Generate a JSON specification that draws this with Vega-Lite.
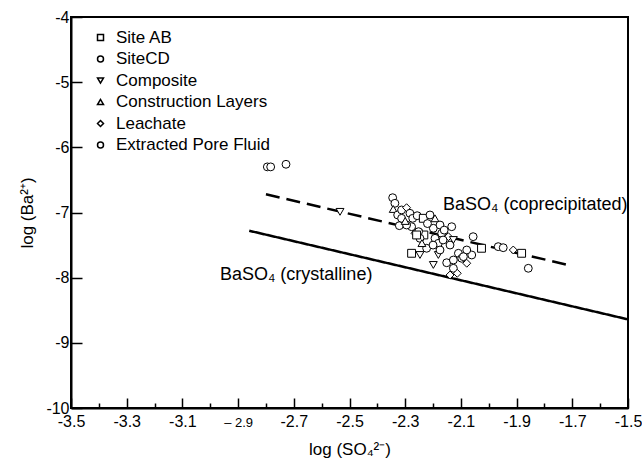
{
  "$schema": "https://vega.github.io/schema/vega-lite/v6.json",
  "width": 557,
  "height": 391,
  "autosize": {"type": "none"},
  "padding": {"left": 71, "top": 17, "right": 14, "bottom": 56},
  "background": "white",
  "config": {
    "font": "Liberation Sans",
    "view": {"stroke": "black", "strokeWidth": 2},
    "axis": {
      "grid": false,
      "domainColor": "black",
      "domainWidth": 2,
      "tickColor": "black",
      "tickWidth": 1.5,
      "labelColor": "black",
      "labelFont": "Liberation Sans",
      "labelFontSize": 16,
      "titleColor": "black",
      "titleFont": "Liberation Sans",
      "titleFontSize": 17,
      "titleFontWeight": "normal"
    }
  },
  "datasets": {
    "lines": [
      {"x": -2.86, "y": -7.28, "type": "crystalline"},
      {"x": -1.5, "y": -8.64, "type": "crystalline"},
      {"x": -2.8, "y": -6.72, "type": "coprecipitated"},
      {"x": -1.7, "y": -7.82, "type": "coprecipitated"}
    ],
    "labels": [
      {"x": -2.965, "y": -7.96, "text": "BaSO₄ (crystalline)"},
      {"x": -2.164, "y": -6.885, "text": "BaSO₄ (coprecipitated)"}
    ],
    "points": [
      {"x": -2.795, "y": -6.30, "s": "Extracted Pore Fluid"},
      {"x": -2.783, "y": -6.30, "s": "Extracted Pore Fluid"},
      {"x": -2.728, "y": -6.26, "s": "Extracted Pore Fluid"},
      {"x": -2.534, "y": -6.99, "s": "Composite"},
      {"x": -2.345, "y": -6.773, "s": "SiteCD"},
      {"x": -2.337, "y": -6.859, "s": "Extracted Pore Fluid"},
      {"x": -2.343, "y": -6.946, "s": "Construction Layers"},
      {"x": -2.327, "y": -7.038, "s": "SiteCD"},
      {"x": -2.313, "y": -6.961, "s": "SiteCD"},
      {"x": -2.295, "y": -6.926, "s": "Leachate"},
      {"x": -2.283, "y": -7.012, "s": "SiteCD"},
      {"x": -2.321, "y": -7.202, "s": "SiteCD"},
      {"x": -2.273, "y": -7.089, "s": "Extracted Pore Fluid"},
      {"x": -2.257, "y": -7.049, "s": "SiteCD"},
      {"x": -2.235, "y": -7.089, "s": "Site AB"},
      {"x": -2.211, "y": -7.038, "s": "SiteCD"},
      {"x": -2.193, "y": -7.089, "s": "Construction Layers"},
      {"x": -2.277, "y": -7.218, "s": "SiteCD"},
      {"x": -2.265, "y": -7.319, "s": "Leachate"},
      {"x": -2.233, "y": -7.345, "s": "Site AB"},
      {"x": -2.247, "y": -7.396, "s": "SiteCD"},
      {"x": -2.199, "y": -7.242, "s": "SiteCD"},
      {"x": -2.175, "y": -7.192, "s": "Extracted Pore Fluid"},
      {"x": -2.133, "y": -7.218, "s": "SiteCD"},
      {"x": -2.169, "y": -7.319, "s": "SiteCD"},
      {"x": -2.145, "y": -7.371, "s": "Leachate"},
      {"x": -2.193, "y": -7.396, "s": "SiteCD"},
      {"x": -2.181, "y": -7.473, "s": "SiteCD"},
      {"x": -2.139, "y": -7.499, "s": "Extracted Pore Fluid"},
      {"x": -2.127, "y": -7.422, "s": "Composite"},
      {"x": -2.277, "y": -7.626, "s": "Site AB"},
      {"x": -2.247, "y": -7.652, "s": "Composite"},
      {"x": -2.223, "y": -7.549, "s": "SiteCD"},
      {"x": -2.199, "y": -7.805, "s": "Composite"},
      {"x": -2.181, "y": -7.652, "s": "Composite"},
      {"x": -2.109, "y": -7.626, "s": "SiteCD"},
      {"x": -2.097, "y": -7.703, "s": "SiteCD"},
      {"x": -2.079, "y": -7.779, "s": "Leachate"},
      {"x": -2.061, "y": -7.652, "s": "SiteCD"},
      {"x": -2.127, "y": -7.856, "s": "SiteCD"},
      {"x": -2.113, "y": -7.933, "s": "Leachate"},
      {"x": -2.139, "y": -7.959, "s": "Leachate"},
      {"x": -2.056, "y": -7.371, "s": "SiteCD"},
      {"x": -2.026, "y": -7.549, "s": "Site AB"},
      {"x": -1.966, "y": -7.524, "s": "Extracted Pore Fluid"},
      {"x": -1.948, "y": -7.540, "s": "SiteCD"},
      {"x": -1.912, "y": -7.575, "s": "Leachate"},
      {"x": -1.882, "y": -7.626, "s": "Site AB"},
      {"x": -1.858, "y": -7.856, "s": "SiteCD"},
      {"x": -2.079, "y": -7.575, "s": "SiteCD"},
      {"x": -2.151, "y": -7.771, "s": "SiteCD"},
      {"x": -2.164, "y": -7.422, "s": "SiteCD"},
      {"x": -2.252, "y": -7.294, "s": "SiteCD"},
      {"x": -2.295, "y": -7.192, "s": "SiteCD"},
      {"x": -2.313, "y": -7.089, "s": "SiteCD"},
      {"x": -2.259, "y": -7.345, "s": "Site AB"},
      {"x": -2.175, "y": -7.575, "s": "SiteCD"},
      {"x": -2.091, "y": -7.678, "s": "Extracted Pore Fluid"},
      {"x": -2.127, "y": -7.729, "s": "SiteCD"},
      {"x": -2.30, "y": -7.13, "s": "Construction Layers"},
      {"x": -2.22, "y": -7.17, "s": "SiteCD"},
      {"x": -2.16, "y": -7.27, "s": "SiteCD"},
      {"x": -2.24, "y": -7.47, "s": "Construction Layers"},
      {"x": -2.20, "y": -7.50, "s": "SiteCD"}
    ]
  },
  "resolve": {"axis": {"x": "independent"}},
  "layer": [
    {
      "data": {"name": "lines"},
      "mark": {"type": "line", "color": "black", "strokeWidth": 2.5},
      "encoding": {
        "x": {
          "field": "x", "type": "quantitative",
          "scale": {"domain": [-3.5, -1.5], "nice": false, "zero": false},
          "axis": {
            "orient": "bottom",
            "values": [-3.5, -3.3, -3.1, -2.9, -2.7, -2.5, -2.3, -2.1, -1.9, -1.7, -1.5],
            "format": ".1f",
            "labelExpr": "abs(datum.value + 2.9) < 0.001 ? '– 2.9' : replace(datum.label, '−', '-')",
            "labelFontSize": {"condition": {"test": "abs(datum.value + 2.9) < 0.001", "value": 13}, "value": 16},
            "labelBaseline": "alphabetic",
            "tickSize": -10,
            "labelPadding": 28,
            "labelFlush": false,
            "labelOverlap": false,
            "title": "log (SO₄²⁻)",
            "titlePadding": 12
          }
        },
        "y": {
          "field": "y", "type": "quantitative",
          "scale": {"domain": [-10, -4], "nice": false, "zero": false},
          "axis": {
            "values": [-10, -9, -8, -7, -6, -5, -4],
            "format": "d",
            "labelExpr": "replace(datum.label, '−', '-')",
            "tickSize": -11,
            "labelPadding": 13,
            "labelFlush": false,
            "labelOverlap": false,
            "title": "log (Ba²⁺)",
            "titlePadding": 9
          }
        },
        "strokeDash": {
          "field": "type", "type": "nominal",
          "scale": {"domain": ["crystalline", "coprecipitated"], "range": [[1, 0], [14, 7]]},
          "legend": null
        },
        "detail": {"field": "type"}
      }
    },
    {
      "data": {"name": "points"},
      "mark": {"type": "point", "filled": true, "fill": "white", "stroke": "black", "strokeWidth": 1, "size": 62, "opacity": 1},
      "encoding": {
        "x": {
          "field": "x", "type": "quantitative",
          "axis": {
            "orient": "bottom",
            "values": [-3.4, -3.2, -3.0, -2.8, -2.6, -2.4, -2.2, -2.0, -1.8, -1.6],
            "tickSize": -5,
            "labels": false,
            "domain": false,
            "title": null
          }
        },
        "y": {"field": "y", "type": "quantitative"},
        "shape": {
          "field": "s", "type": "nominal",
          "scale": {
            "domain": ["Site AB", "SiteCD", "Composite", "Construction Layers", "Leachate", "Extracted Pore Fluid"],
            "range": ["square", "circle", "triangle-down", "triangle-up", "diamond", "circle"]
          },
          "legend": {
            "title": null,
            "orient": "none",
            "legendX": 21,
            "legendY": 12,
            "symbolSize": 36,
            "labelFontSize": 17,
            "labelFont": "Liberation Sans",
            "labelColor": "black",
            "labelOffset": 7,
            "rowPadding": 3.5,
            "encode": {
              "symbols": {
                "update": {
                  "stroke": {"value": "black"},
                  "fill": {"value": "white"},
                  "strokeWidth": {"value": 0.9},
                  "opacity": {"value": 1}
                }
              }
            }
          }
        }
      }
    },
    {
      "data": {"name": "labels"},
      "mark": {"type": "text", "align": "left", "baseline": "middle", "fontSize": 18, "font": "Liberation Sans", "color": "black"},
      "encoding": {
        "x": {"field": "x", "type": "quantitative", "axis": null},
        "y": {"field": "y", "type": "quantitative"},
        "text": {"field": "text"}
      }
    }
  ]
}
